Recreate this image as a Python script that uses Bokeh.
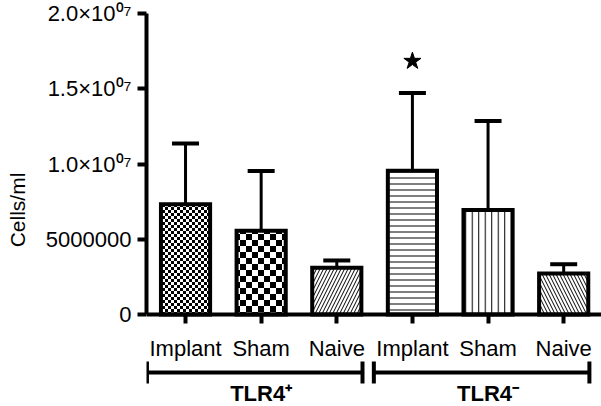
import zlib, struct, base64
from bokeh.plotting import figure
from bokeh.models import (Range1d, FixedTicker, ColumnDataSource, Whisker, TeeHead,
                          ImageURLTexture)
from bokeh.core.properties import value
from bokeh.embed import file_html
from bokeh.resources import INLINE

# ---------------- data ----------------
groups = ["TLR4⁺", "TLR4⁻"]
categories = ["Implant", "Sham", "Naive", "Implant", "Sham", "Naive"]
group_of_bar = [0, 0, 0, 1, 1, 1]
means = [7.33e6, 5.56e6, 3.10e6, 9.55e6, 6.94e6, 2.73e6]
sems = [4.04e6, 3.97e6, 0.49e6, 5.16e6, 5.91e6, 0.61e6]
significant = [False, False, False, True, False, False]
y_ticks = [0, 5000000, 10000000, 15000000, 20000000]
y_tick_labels = ["0", "5000000", "1.0×10⁰⁷", "1.5×10⁰⁷", "2.0×10⁰⁷"]

# ---------------- layout / style ----------------
FONT = "Liberation Sans"
W, H = 601, 406
B_LEFT, B_TOP = 146, 13
AXIS_PX = 301          # pixels from the 0 line up to the top of the value axis
Y0, Y1 = 0, 2e7
PX = (Y1 - Y0) / AXIS_PX            # data units per pixel
Y_START = Y0 - (H - B_TOP - AXIS_PX) * PX   # room below the axis for labels/brackets


def checker_png(cell):
    n = 2 * cell
    raw = b""
    for yy in range(n):
        row = bytearray([0])
        for xx in range(n):
            v = 0 if ((xx // cell) + (yy // cell)) % 2 == 0 else 255
            row += bytes([v, v, v])
        raw += bytes(row)

    def chunk(t, d):
        return struct.pack(">I", len(d)) + t + d + struct.pack(">I", zlib.crc32(t + d) & 0xffffffff)

    png = (b"\x89PNG\r\n\x1a\n" + chunk(b"IHDR", struct.pack(">IIBBBBB", n, n, 8, 2, 0, 0, 0))
           + chunk(b"IDAT", zlib.compress(raw)) + chunk(b"IEND", b""))
    return "data:image/png;base64," + base64.b64encode(png).decode()


bar_styles = [
    dict(hatch_pattern=value("fine"), hatch_extra={"fine": ImageURLTexture(url=checker_png(3))}),
    dict(hatch_pattern=value("coarse"), hatch_extra={"coarse": ImageURLTexture(url=checker_png(6))}),
    dict(hatch_pattern=value("right_diagonal_line"), hatch_scale=7, hatch_weight=1),
    dict(hatch_pattern=value("horizontal_line"), hatch_scale=6, hatch_weight=1),
    dict(hatch_pattern=value("vertical_line"), hatch_scale=6.5, hatch_weight=1),
    dict(hatch_pattern=value("left_diagonal_line"), hatch_scale=7, hatch_weight=1),
]

xs = list(range(1, len(means) + 1))
uppers = [m + s for m, s in zip(means, sems)]

p = figure(width=W, height=H, x_range=Range1d(0.484, 6.5), y_range=Range1d(Y_START, Y1),
           output_backend="svg", toolbar_location=None,
           min_border=0, min_border_left=B_LEFT, min_border_right=0,
           min_border_top=B_TOP, min_border_bottom=0)
p.outline_line_color = None
p.grid.visible = False

for i in range(len(means)):
    p.vbar(x=[xs[i]], top=[means[i]], bottom=0, width=0.65,
           fill_color="white", line_color="black", line_width=4, line_join="miter",
           hatch_color="black", **bar_styles[i])

src = ColumnDataSource(dict(x=xs, top=means, upper=uppers))
p.add_layout(Whisker(base="x", lower="top", upper="upper", source=src, dimension="height",
                     line_width=3, line_color="black", lower_head=None,
                     upper_head=TeeHead(size=27, line_width=4, line_color="black")))

star_x = [x for x, s in zip(xs, significant) if s]
star_y = [u + 32 * PX for u, s in zip(uppers, significant) if s]
p.scatter(x=star_x, y=star_y, marker="star", size=18, fill_color="black", line_color="black")

xa = p.xaxis[0]
ya = p.yaxis[0]
for ax in (xa, ya):
    ax.axis_line_width = 4
    ax.axis_line_color = "black"
    ax.major_tick_line_width = 4
    ax.major_tick_line_color = "black"
    ax.minor_tick_line_color = None
    ax.major_label_text_font = FONT
    ax.major_label_text_color = "black"

# category axis sits on the zero line; ticks point outward (negative "in")
xa.fixed_location = 0
xa.major_tick_out = 0
xa.major_tick_in = -9
xa.ticker = FixedTicker(ticks=xs)
xa.major_label_overrides = {x: c for x, c in zip(xs, categories)}
xa.major_label_text_font_size = "22px"
xa.major_label_standoff = 21

ya.bounds = (Y0, Y1)
ya.major_tick_out = 9
ya.major_tick_in = 0
ya.ticker = FixedTicker(ticks=y_ticks)
ya.major_label_overrides = {t: l for t, l in zip(y_ticks, y_tick_labels)}
ya.major_label_text_font_size = "22px"
ya.major_label_standoff = 6
ya.axis_label = "Cells/ml"
ya.axis_label_text_font = FONT
ya.axis_label_text_font_size = "21px"
ya.axis_label_text_font_style = "normal"
ya.axis_label_text_color = "black"
ya.axis_label_standoff = 14

# group brackets and group names below the category labels
y_bracket = Y0 - 58 * PX
y_glabel = Y0 - 79 * PX
centers, lo, hi = [], [], []
for gi in range(len(groups)):
    members = [x for x, gb in zip(xs, group_of_bar) if gb == gi]
    centers.append(sum(members) / len(members))
    lo.append(min(members) - 0.51)
    hi.append(max(members) + 0.34)
bsrc = ColumnDataSource(dict(base=[y_bracket] * len(groups), lower=lo, upper=hi))
p.add_layout(Whisker(base="base", lower="lower", upper="upper", source=bsrc, dimension="width",
                     line_width=4, line_color="black",
                     lower_head=TeeHead(size=22, line_width=4, line_color="black"),
                     upper_head=TeeHead(size=22, line_width=4, line_color="black")))
p.text(x=centers, y=[y_glabel] * len(groups), text=groups,
       text_align="center", text_baseline="middle",
       text_font=value(FONT), text_font_size="22px", text_font_style="bold",
       text_color="black")

open("out.html", "w").write(file_html(p, INLINE))
